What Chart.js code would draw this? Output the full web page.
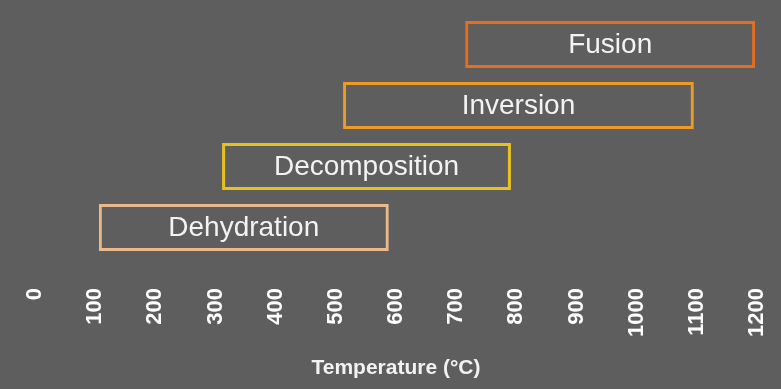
<!DOCTYPE html>
<html>
<head>
<meta charset="utf-8">
<script src="https://cdn.jsdelivr.net/npm/chart.js@4"></script>
<style>
  html, body { margin: 0; padding: 0; background: #5e5e5e; }
  #wrap { width: 781px; height: 389px; }
</style>
</head>
<body>
<div id="wrap"><canvas id="stagesChart"></canvas></div>
<script>
// Stages, listed from the bottom bar to the top bar
const stages = ['Dehydration', 'Decomposition', 'Inversion', 'Fusion'];
const startTemps = [106, 311, 512, 715];
const endTemps = [588, 791, 1095, 1197];
const stageColors = ['#eab98c', '#e6c21c', '#ec9b28', '#e86d1f'];
const tickValues = [0, 100, 200, 300, 400, 500, 600, 700, 800, 900, 1000, 1100, 1200];

// Write each stage name in the middle of its bar
const barLabels = {
  id: 'barLabels',
  afterDatasetsDraw(chart) {
    const ctx = chart.ctx;
    const meta = chart.getDatasetMeta(0);
    ctx.save();
    ctx.font = '28px "Liberation Sans", Arial, sans-serif';
    ctx.fillStyle = '#f3f3f3';
    ctx.textAlign = 'center';
    ctx.textBaseline = 'middle';
    meta.data.forEach((bar, i) => {
      const cx = (bar.x + bar.base) / 2;
      ctx.fillText(stages[i], cx, bar.y + 1);
    });
    ctx.restore();
  }
};

new Chart(document.getElementById('stagesChart'), {
  type: 'bar',
  data: {
    labels: stages,
    datasets: [{
      data: stages.map((s, i) => [startTemps[i], endTemps[i]]),
      backgroundColor: 'rgba(0,0,0,0)',
      borderColor: stageColors,
      borderWidth: 3,
      borderSkipped: false,
      barPercentage: 0.77,
      categoryPercentage: 1
    }]
  },
  options: {
    indexAxis: 'y',
    responsive: true,
    maintainAspectRatio: false,
    animation: false,
    layout: { padding: { top: 14, left: 35, right: 24, bottom: 0 } },
    scales: {
      x: {
        min: 0,
        max: 1200,
        grid: { display: false, drawTicks: false },
        border: { display: false },
        afterBuildTicks: (scale) => {
          scale.ticks = tickValues.map(v => ({ value: v }));
        },
        afterFit: (scale) => {
          scale.height = 131;
          // no extra room for the rotated end labels
          scale.paddingLeft = 0;
          scale.paddingRight = 0;
        },
        ticks: {
          autoSkip: false,
          minRotation: 90,
          maxRotation: 90,
          padding: 30,
          color: '#ffffff',
          callback: (v) => String(v),
          font: { family: '"Liberation Sans", Arial, sans-serif', size: 22, weight: 'bold' }
        },
        title: {
          display: true,
          text: 'Temperature (°C)',
          color: '#f2f2f2',
          padding: { top: 0, bottom: 8 },
          font: { family: '"Liberation Sans", Arial, sans-serif', size: 21, weight: 'bold' }
        }
      },
      y: {
        display: false,
        reverse: true
      }
    },
    plugins: {
      legend: { display: false },
      tooltip: { enabled: false }
    }
  },
  plugins: [barLabels]
});
</script>
</body>
</html>
